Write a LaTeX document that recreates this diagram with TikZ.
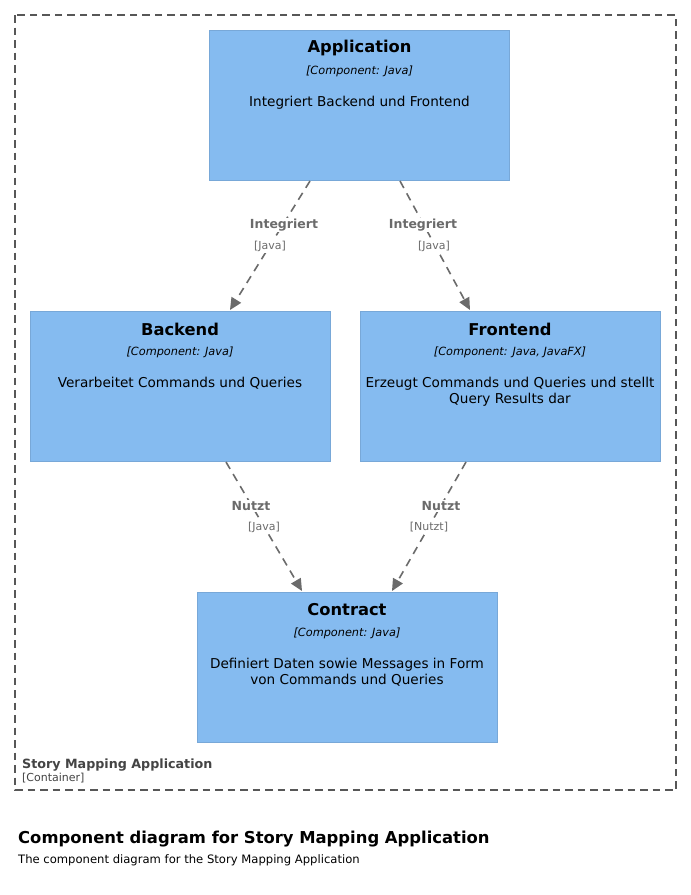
\documentclass[tikz,border=0pt]{standalone}
\usepackage{fontspec}
\setmainfont{DejaVu Sans}
\usetikzlibrary{arrows.meta}
\definecolor{compfill}{HTML}{85BBF0}
\definecolor{compline}{HTML}{78A8D8}
\definecolor{relcol}{HTML}{6B6B6B}
\definecolor{bordercol}{HTML}{444444}
\tikzset{
  comp/.style={draw=compline, line width=1.2pt, fill=compfill, minimum width=300pt, minimum height=150pt, anchor=north west, inner sep=0pt},
  ctitle/.style={font=\fontsize{16.3}{18}\selectfont\bfseries, anchor=center, inner sep=0pt},
  ctype/.style={font=\fontsize{11.3}{13}\selectfont\itshape, anchor=center, inner sep=0pt},
  cdesc/.style={font=\fontsize{13.6}{16}\selectfont, anchor=north, align=center, inner sep=0pt},
  rel/.style={draw=relcol, line width=1.6pt, dash pattern=on 8pt off 6pt, -{Triangle[length=12pt,width=11pt]}},
  rlab/.style={font=\fontsize{12.5}{14}\selectfont\bfseries, text=relcol, inner sep=1pt, fill=white},
  rtech/.style={font=\fontsize{11}{13}\selectfont, text=relcol, inner sep=1pt, fill=white},
}
\begin{document}
\begin{tikzpicture}[x=1pt,y=-1pt]
\useasboundingbox (0,0) rectangle (691,895);
\fill[white] (0,0) rectangle (691,895);
% container
\draw[bordercol!90, line width=1.4pt, dash pattern=on 7.5pt off 5pt] (15,15) rectangle (676,790);
\node[anchor=west, font=\fontsize{12.7}{14}\selectfont\bfseries, text=bordercol, inner sep=0pt] (cname) at (22,765) {Story Mapping Application};
\node[anchor=west, font=\fontsize{11}{13}\selectfont, text=bordercol, inner sep=0pt] (ctype) at (22,778.5) {[Container]};
% components
\node[comp] (app) at (209,30) {};
\node[ctitle] (appt) at (359.5,48) {Application};
\node[ctype] (appk) at (359.5,71.5) {[Component: Java]};
\node[cdesc] (appd) at (359.5,96) {Integriert Backend und Frontend};

\node[comp] (be) at (30,311) {};
\node[ctitle] (bet) at (180,329) {Backend};
\node[ctype] (bek) at (180,352.5) {[Component: Java]};
\node[cdesc] (bed) at (180,377) {Verarbeitet Commands und Queries};

\node[comp] (fe) at (360,311) {};
\node[ctitle] (fet) at (510,329) {Frontend};
\node[ctype] (fek) at (510,352.5) {[Component: Java, JavaFX]};
\node[cdesc] (fed) at (510,377) {Erzeugt Commands und Queries und stellt\\Query Results dar};

\node[comp] (ct) at (197,592) {};
\node[ctitle] (ctt) at (347,610) {Contract};
\node[ctype] (ctk) at (347,633.5) {[Component: Java]};
\node[cdesc] (ctd) at (347,658) {Definiert Daten sowie Messages in Form\\von Commands und Queries};
% connector endpoints
\coordinate (a1) at (310,181);
\coordinate (b1) at (230,310);
\coordinate (a2) at (400,181);
\coordinate (f1) at (470,310);
\coordinate (b2) at (226,462);
\coordinate (c1) at (302,591);
\coordinate (f2) at (466,462);
\coordinate (c2) at (392,591);
\draw[rel] (a1) -- (b1);
\draw[rel] (a2) -- (f1);
\draw[rel] (b2) -- (c1);
\draw[rel] (f2) -- (c2);
% labels
\node[rlab] (l1) at (284,225) {Integriert};
\node[rtech] (t1) at (270,246.5) {[Java]};
\node[rlab] (l2) at (423,225) {Integriert};
\node[rtech] (t2) at (434,246.5) {[Java]};
\node[rlab] (l3) at (251,506) {Nutzt};
\node[rtech] (t3) at (264,527.5) {[Java]};
\node[rlab] (l4) at (441,506) {Nutzt};
\node[rtech] (t4) at (429,527.5) {[Nutzt]};
% title
\node[anchor=west, font=\fontsize{16.4}{18}\selectfont\bfseries, inner sep=0pt] (title) at (18,839) {Component diagram for Story Mapping Application};
\node[anchor=west, font=\fontsize{11.6}{13}\selectfont, inner sep=0pt] (sub) at (18,860.5) {The component diagram for the Story Mapping Application};
\end{tikzpicture}
\end{document}
